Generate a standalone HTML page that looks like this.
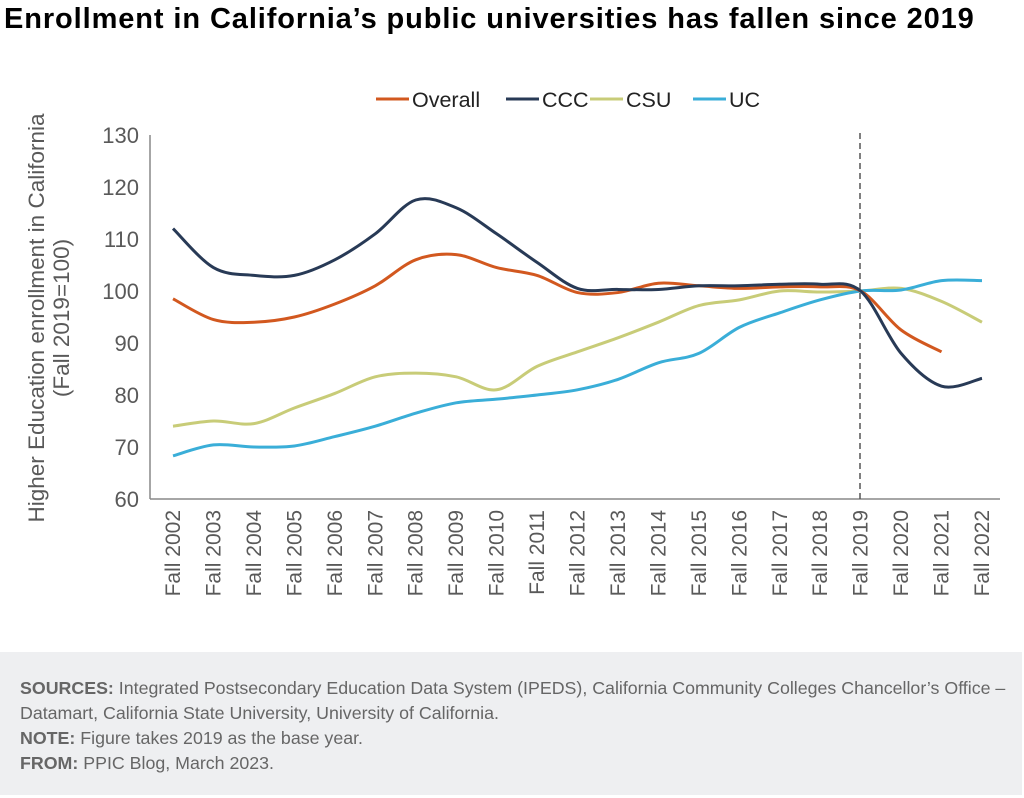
<!DOCTYPE html>
<html><head><meta charset="utf-8"><style>
body{margin:0;width:1024px;height:798px;background:#fff;font-family:"Liberation Sans",Arial,sans-serif;overflow:hidden;position:relative}
.title{position:absolute;left:4px;top:3px;font-size:29px;font-weight:bold;color:#000;letter-spacing:0.9px;white-space:nowrap}
.foot{position:absolute;left:0;top:652px;width:1022px;height:143px;background:#eeeff1;color:#666;font-size:17.8px;line-height:25px;box-sizing:border-box;padding:24px 0 0 20px;white-space:nowrap}
.foot b{color:#666}
</style></head><body>
<div class="title">Enrollment in California’s public universities has fallen since 2019</div>
<svg id="s" width="1024" height="650" style="position:absolute;left:0;top:0" font-family="Liberation Sans, Arial, sans-serif"></svg>
<div class="foot"><b>SOURCES:</b> Integrated Postsecondary Education Data System (IPEDS), California Community Colleges Chancellor’s Office –<br>Datamart, California State University, University of California.<br><b>NOTE:</b> Figure takes 2019 as the base year.<br><b>FROM:</b> PPIC Blog, March 2023.</div>
<script>
const s=document.getElementById('s');let h='';
const X=i=>173+i*40.45, Y=v=>135+(130-v)*5.2;
for(let v=60;v<=130;v+=10)h+=`<text x="139" y="${Y(v)+8}" text-anchor="end" font-size="22" fill="#595959">${v}</text>`;
h+=`<line x1="150" y1="135" x2="150" y2="499" stroke="#888" stroke-width="1.5"/><line x1="150" y1="499" x2="1000" y2="499" stroke="#888" stroke-width="1.5"/>`;
for(let i=0;i<21;i++)h+=`<text transform="translate(${X(i)+7},510) rotate(-90)" text-anchor="end" font-size="21" fill="#595959">Fall ${2002+i}</text>`;
h+=`<line x1="860" y1="133" x2="860" y2="499" stroke="#555" stroke-width="1.5" stroke-dasharray="6,4"/>`;
h+=`<text transform="translate(50,318) rotate(-90)" text-anchor="middle" font-size="22.5" fill="#595959"><tspan x="0" dy="-6">Higher Education enrollment  in California</tspan><tspan x="0" dy="25">(Fall 2019=100)</tspan></text>`;
const D={
CSU:['#c8cc78',[74,75,74.5,77.5,80.3,83.5,84.2,83.5,81,85.5,88.3,91,94,97.2,98.3,100,99.8,100,100.5,98,94]],
UC:['#3aaed8',[68.3,70.4,70,70.2,72,74,76.5,78.5,79.2,80,81,83,86.2,88,93,95.8,98.3,100,100.2,102,102]],
Overall:['#d2581f',[98.5,94.5,94,95,97.5,101,106,107,104.5,103,99.7,99.7,101.5,101,100.5,100.8,100.8,100,92.5,88.3]],
CCC:['#283a56',[112,104.5,103,103,106,111,117.5,116,111,105.5,100.5,100.3,100.3,101,101,101.3,101.3,100,88,81.7,83.2]]};
for(const k in D){const [c,d]=D[k];const p=d.map((v,i)=>[X(i),Y(v)]);let path=`M${p[0]}`;
for(let i=0;i<p.length-1;i++){const p0=p[i-1]||p[i],p1=p[i],p2=p[i+1],p3=p[i+2]||p2;
path+=`C${p1[0]+(p2[0]-p0[0])/6},${p1[1]+(p2[1]-p0[1])/6} ${p2[0]-(p3[0]-p1[0])/6},${p2[1]-(p3[1]-p1[1])/6} ${p2[0]},${p2[1]}`;}
h+=`<path d="${path}" fill="none" stroke="${c}" stroke-width="3"/>`;}
const L=[['Overall','#d2581f',376],['CCC','#283a56',506],['CSU','#c8cc78',590],['UC','#3aaed8',693]];
for(const [n,c,x] of L)h+=`<line x1="${x}" y1="99" x2="${x+33}" y2="99" stroke="${c}" stroke-width="3"/><text x="${x+36}" y="107" font-size="21.5" fill="#222">${n}</text>`;
s.innerHTML=h;
</script>
</body></html>
